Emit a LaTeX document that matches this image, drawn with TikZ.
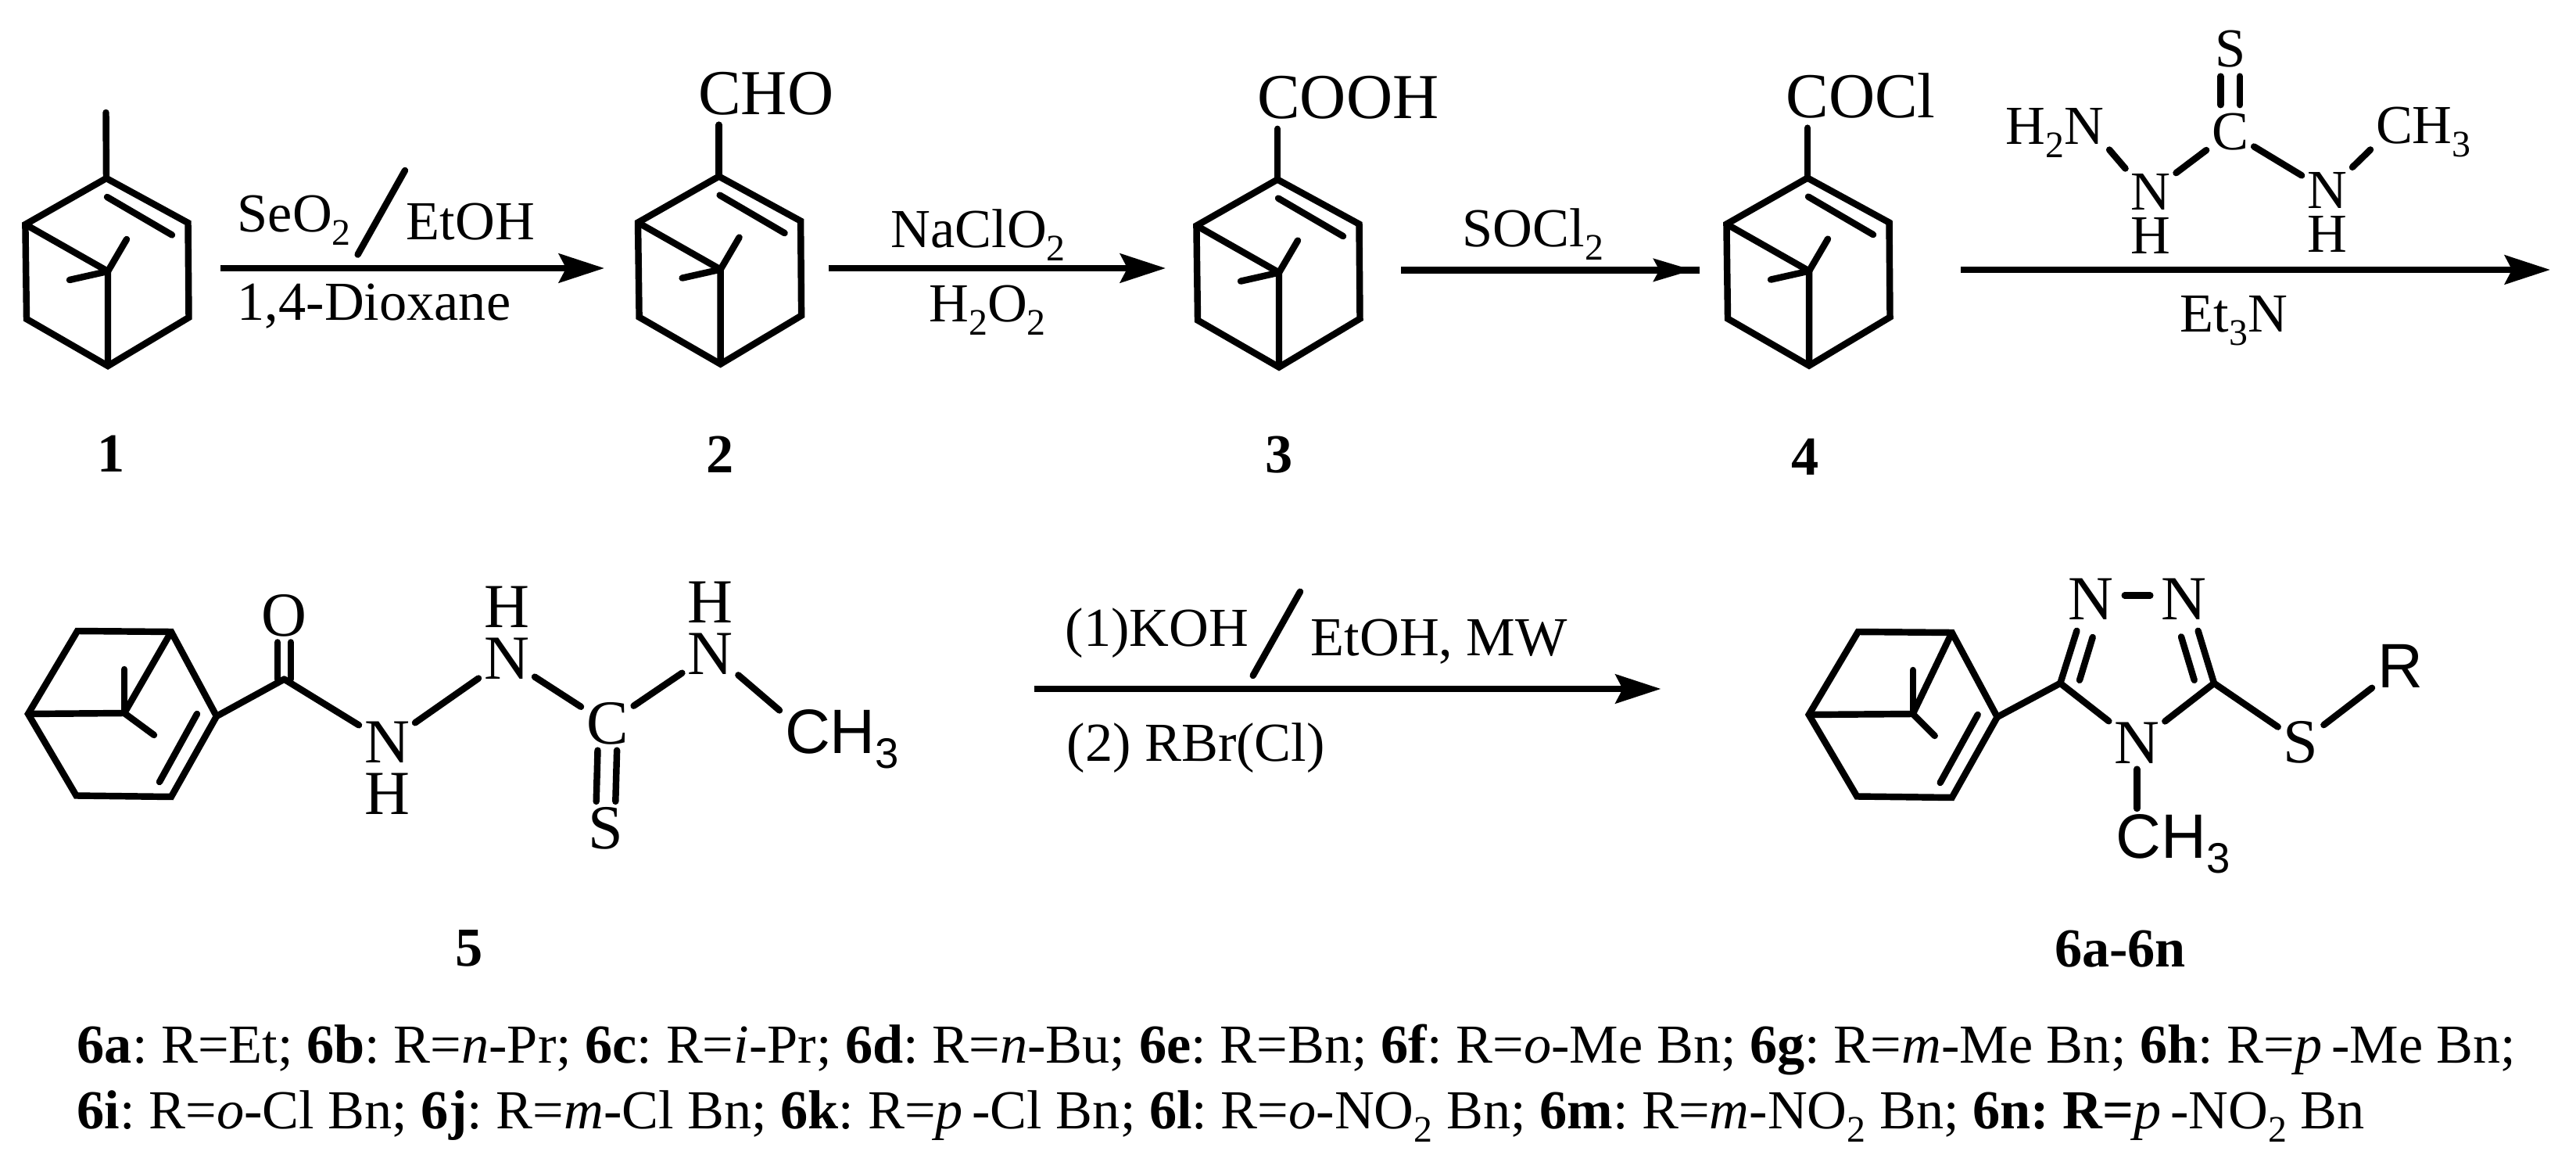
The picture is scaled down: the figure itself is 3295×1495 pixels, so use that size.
\documentclass[tikz,border=0pt]{standalone}
\usepackage{fontspec}
\setmainfont{Liberation Serif}
\newfontfamily\molsans{Liberation Sans}
\usetikzlibrary{arrows.meta}
\frenchspacing
\newcommand{\sbs}[1]{\smash{\raisebox{-.24em}{\scalebox{.68}{#1}}}}
\tikzset{>={Stealth[length=16.5pt,width=10.5pt,inset=2.6pt]}}
\tikzset{bond/.style={line width=2.4pt,line cap=round}}
\tikzset{ring/.style={line width=2.4pt,line join=miter}}
\tikzset{rxn/.style={line width=2.4pt,->}}
\tikzset{reagent/.style={anchor=base west,inner sep=0pt,font=\fontsize{20}{24}\selectfont}}
\tikzset{group/.style={anchor=base west,inner sep=0pt,outer sep=3.5pt,font=\fontsize{23.3}{28}\selectfont}}
\tikzset{atom/.style={anchor=base,inner sep=0pt,outer sep=2pt,font=\fontsize{20}{24}\selectfont}}
\tikzset{bigatom/.style={anchor=base,inner sep=0pt,outer sep=2pt,font=\fontsize{22.8}{26}\selectfont}}
\tikzset{sansatom/.style={anchor=base west,inner sep=0pt,outer sep=2pt,font=\fontsize{22.8}{26}\selectfont\molsans}}
\tikzset{number/.style={anchor=base,inner sep=0pt,font=\fontsize{20}{24}\selectfont\bfseries}}
\tikzset{capt/.style={anchor=base west,inner sep=0pt,font=\fontsize{20}{24}\selectfont}}
\tikzset{pics/pinene/.style={code={
	\coordinate (-c1) at (0,0);
	\coordinate (-c2) at (104.5,57);
	\coordinate (-c3) at (105.5,178);
	\coordinate (-c4) at (2,240);
	\coordinate (-c5) at (-102,180);
	\coordinate (-c6) at (-103.6,59);
	\coordinate (-c7) at (2,119);
	\coordinate (-me1) at (-47,130);
	\coordinate (-me2) at (26,78);
	\coordinate (-d1) at (1,24);
	\coordinate (-d2) at (84,72.5);
	\draw[ring] (-c1)--(-c2)--(-c3)--(-c4)--(-c5)--(-c6)--cycle;
	\draw[ring] (-c6)--(-c7)--(-c4);
	\draw[bond] (-c7)--(-me1);
	\draw[bond] (-c7)--(-me2);
	\draw[bond] (-d1)--(-d2);
}}}
\tikzset{pics/turned/.style={code={
	\coordinate (-c) at (0,0);
	\coordinate (-a) at (-178,-109);
	\coordinate (-b) at (-58,-108);
	\coordinate (-d) at (-58,103);
	\coordinate (-e) at (-179.5,101.5);
	\coordinate (-f) at (-241,-3);
	\coordinate (-g) at (#1,-4);
	\coordinate (-up) at (#1,-60);
	\coordinate (-low) at (-80,24);
	\coordinate (-i1) at (-25,-3);
	\coordinate (-i2) at (-73,84);
	\draw[ring] (-a)--(-b)--(-c)--(-d)--(-e)--(-f)--cycle;
	\draw[ring] (-f)--(-g)--(-b);
	\draw[bond] (-g)--(-up);
	\draw[bond] (-g)--(-low);
	\draw[bond] (-i1)--(-i2);
}}}

\begin{document}
\begin{tikzpicture}[x=0.01cm,y=-0.01cm]
	\useasboundingbox (0,0) rectangle (3295,1495);

	\pic (p1) at (136,228) {pinene};
	\pic (p2) at (919.6,225.6) {pinene};
	\pic (p3) at (1634,229.6) {pinene};
	\pic (p4) at (2312,227.6) {pinene};
	\pic (p5) at (277,916) {turned=-118};
	\pic (p6) at (2554.7,917) {turned=-108};

	\coordinate (me1) at (135.5,144);
	\draw[bond] (p1-c1)--(me1);
	\node (cho) at (881,146.5)[group]{CHO};
	\node (cooh) at (1596,151.7)[group]{COOH};
	\node (cocl) at (2272,150.5)[group]{COCl};
	\draw[bond] (p2-c1)--(p2-c1 |- cho.south);
	\draw[bond] (p3-c1)--(p3-c1 |- cooh.south);
	\draw[bond] (p4-c1)--(p4-c1 |- cocl.south);

	\node (no1) at (142,604)[number]{1};
	\node (no2) at (920.7,605)[number]{2};
	\node (no3) at (1635.6,605)[number]{3};
	\node (no4) at (2309.5,608)[number]{4};
	\node (no5) at (600,1235)[number]{5};
	\node (no6) at (2712,1236.7)[number]{6a-6n};

	\coordinate (a1s) at (282,343);
	\coordinate (a1e) at (773,343);
	\coordinate (a2s) at (1060,343);
	\coordinate (a2e) at (1491,343);
	\coordinate (a3s) at (1792,345.4);
	\coordinate (a3t) at (2165.4,345.4);
	\coordinate (a3e) at (2174,345.4);
	\coordinate (a4s) at (2508.4,345);
	\coordinate (a4e) at (3262,345);
	\coordinate (a5s) at (1322.7,881);
	\coordinate (a5e) at (2124.5,881);
	\draw[rxn] (a1s)--(a1e);
	\draw[rxn] (a2s)--(a2e);
	\draw[line width=2.4pt] (a3s)--(a3e);
	\draw[line width=2.4pt,-{Stealth[length=14.2pt,width=8.1pt,inset=2pt]}] (a3s)--(a3t);
	\draw[rxn] (a4s)--(a4e);
	\draw[rxn] (a5s)--(a5e);

	\node (seo) at (303,297)[reagent]{SeO\sbs{2}};
	\node (etoh) at (519,307)[reagent]{EtOH};
	\node (diox) at (303,409.6)[reagent]{1,4-Dioxane};
	\coordinate (sl1a) at (518,218);
	\coordinate (sl1b) at (457.6,325.6);
	\draw[bond] (sl1a)--(sl1b);
	\node (naclo) at (1139,316.5)[reagent]{NaClO\sbs{2}};
	\node (hoo) at (1187.7,411.5)[reagent]{H\sbs{2}O\sbs{2}};
	\node (socl) at (1870,315.8)[reagent]{SOCl\sbs{2}};
	\node (et3n) at (2788,425)[reagent]{Et\sbs{3}N};
	\node (koh) at (1362,826)[reagent]{(1)KOH};
	\node (etmw) at (1676,838)[reagent]{EtOH, MW};
	\node (rbr) at (1364,973.3)[reagent]{(2) RBr(Cl)};
	\coordinate (sl2a) at (1663,756.7);
	\coordinate (sl2b) at (1602.7,864);
	\draw[bond] (sl2a)--(sl2b);

	\node (s4) at (2852.6,85.7)[atom]{S};
	\node (c4) at (2852.6,192)[atom]{C};
	\node (h2n) at (2558.5,184.5)[atom,anchor=base west]{H\sbs{2}N};
	\node (n4a) at (2751,268.6)[atom]{N};
	\node (h4a) at (2751,324.5)[atom]{H};
	\node (n4b) at (2976.5,267)[atom]{N};
	\node (h4b) at (2976.5,322.4)[atom]{H};
	\node (ch4) at (3032,183.7)[atom,anchor=base west]{CH\sbs{3}};
	\draw[bond,shorten >=1.2pt,shorten <=1.2pt] ([xshift=-3.5pt]s4.south)--([xshift=-3.5pt]c4.north);
	\draw[bond,shorten >=1.2pt,shorten <=1.2pt] ([xshift=3.5pt]s4.south)--([xshift=3.5pt]c4.north);
	\draw[bond] (h2n.south east)--(n4a.north west);
	\draw[bond] (n4a)--(c4);
	\draw[bond] (c4)--(n4b);
	\draw[bond] (n4b.north east)--(ch4.south west);

	\coordinate (co5) at (363.5,868.6);
	\node (o5) at (363.5,813.6)[bigatom]{O};
	\node (n5a) at (495,975.7)[bigatom]{N};
	\node (h5a) at (495,1041)[bigatom]{H};
	\node (n5b) at (648,868.6)[bigatom]{N};
	\node (h5b) at (648,802.9)[bigatom]{H};
	\node (c5) at (776.8,951.8)[bigatom]{C};
	\node (s5) at (775,1085)[bigatom]{S};
	\node (n5c) at (908.4,862.5)[bigatom]{N};
	\node (h5c) at (908.4,797)[bigatom]{H};
	\node (ch5) at (997,963.6)[sansatom]{CH\sbs{3}};
	\draw[bond] (p5-c)--(co5);
	\draw[bond] ([xshift=-2.4pt]o5.south)--([xshift=-2.4pt]co5);
	\draw[bond] ([xshift=2.4pt]o5.south)--([xshift=2.4pt]co5);
	\draw[bond] (co5)--(n5a);
	\draw[bond] (n5a)--(n5b);
	\draw[bond] (n5b)--(c5);
	\draw[bond] (c5)--(n5c);
	\draw[bond] ([xshift=-3.5pt]c5.south)--([xshift=-3.5pt]s5.north);
	\draw[bond] ([xshift=3.5pt]c5.south)--([xshift=3.5pt]s5.north);
	\draw[bond] (n5c.323)--(ch5.161);

	\coordinate (c61) at (2635.3,873.8);
	\coordinate (c62) at (2832,873.8);
	\coordinate (d6a) at (2676.7,815);
	\coordinate (d6b) at (2660,869.8);
	\coordinate (d6c) at (2790,814.4);
	\coordinate (d6d) at (2806.7,869.8);
	\node (n6a) at (2674.7,792.7)[bigatom]{N};
	\node (n6b) at (2793.3,792.7)[bigatom]{N};
	\node (n6c) at (2733.3,976.6)[bigatom]{N};
	\node (s6) at (2943,975.8)[bigatom]{S};
	\node (r6) at (3034,879.7)[sansatom]{R};
	\node (ch6) at (2699.7,1097)[sansatom]{CH\sbs{3}};
	\draw[bond] (p6-c)--(c61);
	\draw[bond] (c61)--([xshift=-5.2pt,yshift=-2pt]n6a.south);
	\draw[bond] (d6a)--(d6b);
	\draw[bond] (c62)--([xshift=5.2pt,yshift=-2pt]n6b.south);
	\draw[bond] (d6c)--(d6d);
	\draw[bond,shorten >=2pt,shorten <=2pt] ([yshift=1.4pt]n6a.east)--([yshift=1.4pt]n6b.west);
	\draw[bond] (c61)--(n6c);
	\draw[bond] (c62)--(n6c);
	\draw[bond] (c62)--(s6);
	\draw[bond] (s6)--(r6);
	\draw[bond] (n6c.south)--(n6c.south |- ch6.north);

	\node (cap1) at (98,1359.3)[capt]{\textbf{6a}: R=Et; \textbf{6b}: R=\textit{n}-Pr; \textbf{6c}: R=\textit{i}-Pr; \textbf{6d}: R=\textit{n}-Bu; \textbf{6e}: R=Bn; \textbf{6f}: R=\textit{o}-Me Bn; \textbf{6g}: R=\textit{m}-Me Bn; \textbf{6h}: R=\textit{p}\,-Me Bn;};
	\node (cap2) at (98,1443.3)[capt]{\textbf{6i}: R=\textit{o}-Cl Bn; \textbf{6j}: R=\textit{m}-Cl Bn; \textbf{6k}: R=\textit{p}\,-Cl Bn; \textbf{6l}: R=\textit{o}-NO\sbs{2} Bn; \textbf{6m}: R=\textit{m}-NO\sbs{2} Bn; \textbf{6n: R=}\textit{p}\,-NO\sbs{2} Bn};
\end{tikzpicture}
\end{document}
